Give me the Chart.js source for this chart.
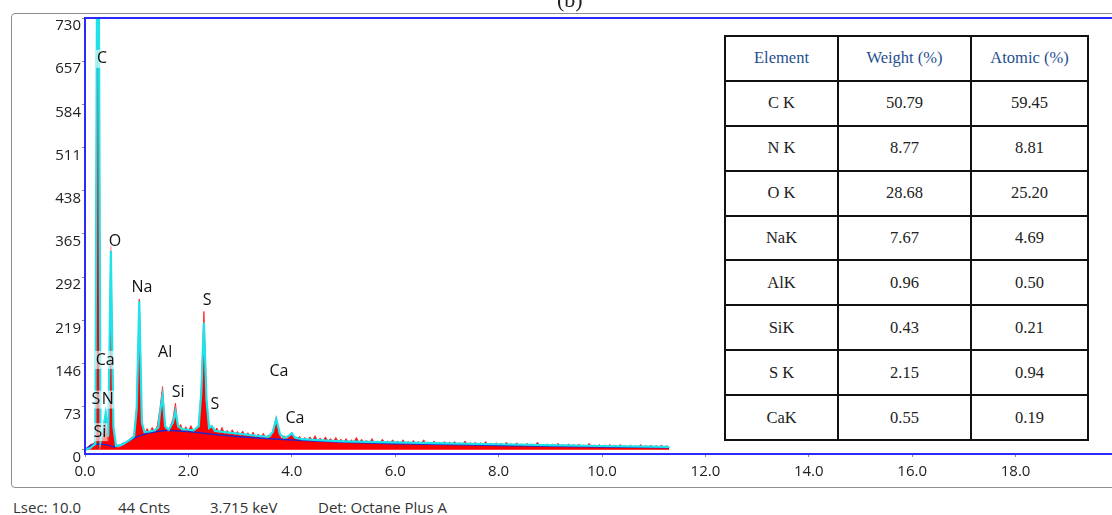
<!DOCTYPE html>
<html>
<head>
<meta charset="utf-8">
<script src="https://cdn.jsdelivr.net/npm/chart.js@4.4.1/dist/chart.umd.min.js"></script>
<style>
  html, body { margin: 0; padding: 0; background: #fff; overflow: hidden; width: 1112px; height: 515px; }
  #wrap { position: relative; width: 1112px; height: 515px; overflow: hidden; font-family: "Open Sans", sans-serif; }
  #frame { position: absolute; left: 11px; top: 13px; width: 1200px; height: 473px; border: 1.5px solid #8e8e8e; border-radius: 4px; }
  #spectrum { position: absolute; left: 0; top: 0; }
  #caption { position: absolute; left: 557px; top: -11px; font: 22px "Liberation Serif", serif; line-height: 22px; color: #222; }
  #quant { position: absolute; left: 724px; top: 35px; display: grid; grid-template-columns: 111px 131px 115px; grid-auto-rows: 42.9px; gap: 2px; padding: 2px; background: #111; }
  #quant div { background: #fff; display: flex; align-items: center; justify-content: center; font: 16.5px "Liberation Serif", serif; color: #222; }
  #quant div.head { color: #1f4f8f; }
  .foot { position: absolute; top: 500px; font-size: 15px; line-height: 15px; color: #333; white-space: nowrap; }
</style>
</head>
<body>
<div id="wrap">
  <div id="frame"></div>
  <canvas id="spectrum" width="1140" height="490" style="width:1140px;height:490px"></canvas>
  <div id="caption">(b)</div>
  <div id="quant"></div>
  <span class="foot" style="left:13px">Lsec: 10.0</span>
  <span class="foot" style="left:118px">44 Cnts</span>
  <span class="foot" style="left:210px">3.715 keV</span>
  <span class="foot" style="left:318px">Det: Octane Plus A</span>
</div>
<script>
// Raw spectrum, one value per 0.05 keV channel starting at 0 keV
const channelWidth = 0.05;
const measuredCounts = [
    0, 3, 9, 10, 14, 1200, 18, 30, 60, 14, 345, 40, 5, 4, 7, 9, 12, 17, 21, 24,
    75, 255, 45, 27, 36, 29, 38, 31, 41, 70, 107, 38, 30, 40, 52, 79, 36, 43, 31, 39,
    32, 41, 30, 37, 42, 105, 234, 85, 35, 42, 30, 37, 28, 38, 27, 33, 26, 34, 25, 31,
    24, 32, 23, 29, 22, 30, 21, 27, 20, 28, 19, 25, 22, 38, 56, 28, 19, 24, 18, 24,
    30, 20, 17, 23, 16, 21, 15, 22, 16, 24, 15, 20, 14, 22, 15, 19, 13, 21, 14, 18,
    13, 19, 12, 17, 13, 21, 12, 18, 13, 16, 11, 19, 12, 15, 11, 18, 12, 15, 11, 17,
    11, 15, 10, 17, 11, 14, 10, 16, 11, 14, 10, 17, 10, 13, 9, 15, 10, 13, 9, 14,
    9, 13, 9, 14, 9, 12, 8, 15, 9, 12, 8, 13, 8, 12, 8, 14, 8, 11, 7, 12,
    8, 11, 7, 13, 8, 10, 7, 12, 7, 10, 6, 11, 7, 10, 6, 13, 7, 9, 6, 10,
    6, 10, 6, 11, 6, 9, 5, 10, 6, 9, 5, 10, 5, 8, 5, 11, 5, 8, 5, 9,
    5, 8, 5, 9, 5, 8, 4, 9, 5, 7, 4, 8, 4, 7, 4, 9, 4, 7, 4, 8,
    4, 7, 4, 8, 4, 7, 4
];

// Smoothed spectrum outline (cyan)
const envelopeKeV = [
    0.00, 0.10, 0.20, 0.25, 0.30, 0.35, 0.40, 0.45, 0.50, 0.55, 0.60, 0.70, 0.80, 0.90, 0.95,
    1.00, 1.05, 1.10, 1.15, 1.25, 1.35, 1.42, 1.45, 1.50, 1.55, 1.62, 1.70, 1.75, 1.80, 1.88,
    2.00, 2.10, 2.20, 2.25, 2.30, 2.35, 2.40, 2.45, 2.52, 2.70, 3.00, 3.30, 3.55, 3.63, 3.70,
    3.77, 3.85, 3.95, 4.00, 4.06, 4.20, 4.60, 5.00, 6.00, 7.00, 8.00, 9.00, 10.00, 11.00, 11.30
];
const envelopeCounts = [
    0, 3, 10, 1200, 14, 35, 62, 22, 336, 38, 7, 8, 13, 19, 23,
    70, 251, 46, 30, 31, 33, 38, 62, 91, 40, 34, 46, 65, 40, 35,
    34, 33, 40, 98, 215, 85, 37, 40, 32, 30, 27, 24, 22, 30, 52,
    27, 20, 24, 28, 21, 18, 16, 14.5, 12.5, 11, 9.5, 8, 6.5, 5.5, 5
];

// Bremsstrahlung background fit (dark blue)
const backgroundKeV = [
    0.00, 0.08, 0.15, 0.30, 0.45, 0.55, 0.65, 0.80, 1.00, 1.20, 1.40, 1.60, 1.80, 2.00,
    2.30, 2.60, 3.00, 3.50, 4.00, 5.00, 6.00, 7.00, 8.00, 9.00, 10.00, 11.00, 11.30
];
const backgroundCounts = [
    0, 6, 9, 10, 8, 5, 7, 13, 22, 28, 31, 33, 32, 31,
    28, 25, 22, 19, 16.5, 13, 10.5, 9, 7.5, 6, 5, 4, 3.5
];

const yTickValues = [0, 73, 146, 219, 292, 365, 438, 511, 584, 657, 730];

// Element markers: name, energy (keV) and height (counts) where the name sits
const peakNames = ['C', 'O', 'Na', 'S', 'Al', 'Ca', 'Ca', 'S', 'N', 'Si', 'S', 'Ca', 'Si'];
const peakNameKeV = [0.33, 0.58, 1.10, 2.36, 1.55, 0.39, 3.75, 0.21, 0.44, 1.80, 2.51, 4.06, 0.29];
const peakNameCounts = [661, 352, 274, 252, 164, 152, 132, 85, 85, 97, 76, 53, 30];

// Quantification table
const tableHeader = ['Element', 'Weight (%)', 'Atomic (%)'];
const tableElements = ['C K', 'N K', 'O K', 'NaK', 'AlK', 'SiK', 'S K', 'CaK'];
const weightPct = ['50.79', '8.77', '28.68', '7.67', '0.96', '0.43', '2.15', '0.55'];
const atomicPct = ['59.45', '8.81', '25.20', '4.69', '0.50', '0.21', '0.94', '0.19'];

function buildTable() {
    const quant = document.getElementById('quant');
    tableHeader.forEach(text => {
        const cell = document.createElement('div');
        cell.className = 'head';
        cell.textContent = text;
        quant.appendChild(cell);
    });
    tableElements.forEach((el, i) => {
        [el, weightPct[i], atomicPct[i]].forEach(text => {
            const cell = document.createElement('div');
            cell.textContent = text;
            quant.appendChild(cell);
        });
    });
}

// Blue box round the plot area
const plotFrame = {
    id: 'plotFrame',
    afterDraw(chart) {
        const { ctx, chartArea } = chart;
        ctx.save();
        ctx.strokeStyle = '#2a2aff';
        ctx.lineWidth = 2;
        ctx.strokeRect(chartArea.left, chartArea.top, chartArea.right - chartArea.left, chartArea.bottom - chartArea.top);
        ctx.restore();
    }
};

// Element names with a light backing box
const peakTags = {
    id: 'peakTags',
    afterDatasetsDraw(chart) {
        const { ctx, scales } = chart;
        ctx.save();
        ctx.font = '16px "Open Sans", sans-serif';
        ctx.textAlign = 'center';
        ctx.textBaseline = 'middle';
        peakNames.forEach((name, i) => {
            const x = scales.x.getPixelForValue(peakNameKeV[i]);
            const y = scales.y.getPixelForValue(peakNameCounts[i]);
            const w = ctx.measureText(name).width + 2;
            ctx.fillStyle = 'rgba(255,255,255,0.6)';
            ctx.fillRect(x - w / 2, y - 9, w, 18);
            ctx.fillStyle = '#111';
            ctx.fillText(name, x, y);
        });
        ctx.restore();
    }
};

function initChart() {
    const ctx = document.getElementById('spectrum');
    const measured = measuredCounts.map((c, i) => ({ x: i * channelWidth, y: c }));
    const envelope = envelopeKeV.map((e, i) => ({ x: e, y: envelopeCounts[i] }));
    const background = backgroundKeV.map((e, i) => ({ x: e, y: backgroundCounts[i] }));

    new Chart(ctx, {
        type: 'line',
        data: {
            datasets: [
                { data: envelope, borderColor: '#1fe3ea', borderWidth: 2.2, pointRadius: 0, fill: false, tension: 0 },
                { data: background, borderColor: '#2626c8', borderWidth: 1.5, pointRadius: 0, fill: false, tension: 0 },
                { data: measured, borderColor: '#ff3030', borderWidth: 1, backgroundColor: '#ff0000', pointRadius: 0, fill: 'origin', tension: 0 }
            ]
        },
        options: {
            responsive: false,
            animation: false,
            events: [],
            layout: { padding: { top: 18, right: 21, left: 0, bottom: 0 } },
            plugins: { legend: { display: false }, tooltip: { enabled: false } },
            scales: {
                x: {
                    type: 'linear',
                    min: 0,
                    max: 20,
                    afterFit: scale => { scale.height = 36; },
                    border: { display: false },
                    grid: { drawOnChartArea: false, drawTicks: true, tickLength: 3, color: '#888' },
                    ticks: {
                        stepSize: 2,
                        padding: 6,
                        color: '#222',
                        font: { family: 'Open Sans', size: 15 },
                        maxRotation: 0,
                        callback: v => (v >= 20 ? '' : v.toFixed(1))
                    }
                },
                y: {
                    min: -7,
                    max: 730,
                    afterFit: scale => { scale.width = 85; },
                    afterBuildTicks: scale => { scale.ticks = yTickValues.map(v => ({ value: v })); },
                    border: { display: false },
                    grid: { drawOnChartArea: false, drawTicks: true, tickLength: 3, color: '#888' },
                    ticks: {
                        padding: 1,
                        labelOffset: 8,
                        color: '#222',
                        font: { family: 'Open Sans', size: 15 }
                    }
                }
            }
        },
        plugins: [peakTags, plotFrame]
    });
}

document.addEventListener('DOMContentLoaded', () => {
    buildTable();
    initChart();
});
</script>
</body>
</html>
